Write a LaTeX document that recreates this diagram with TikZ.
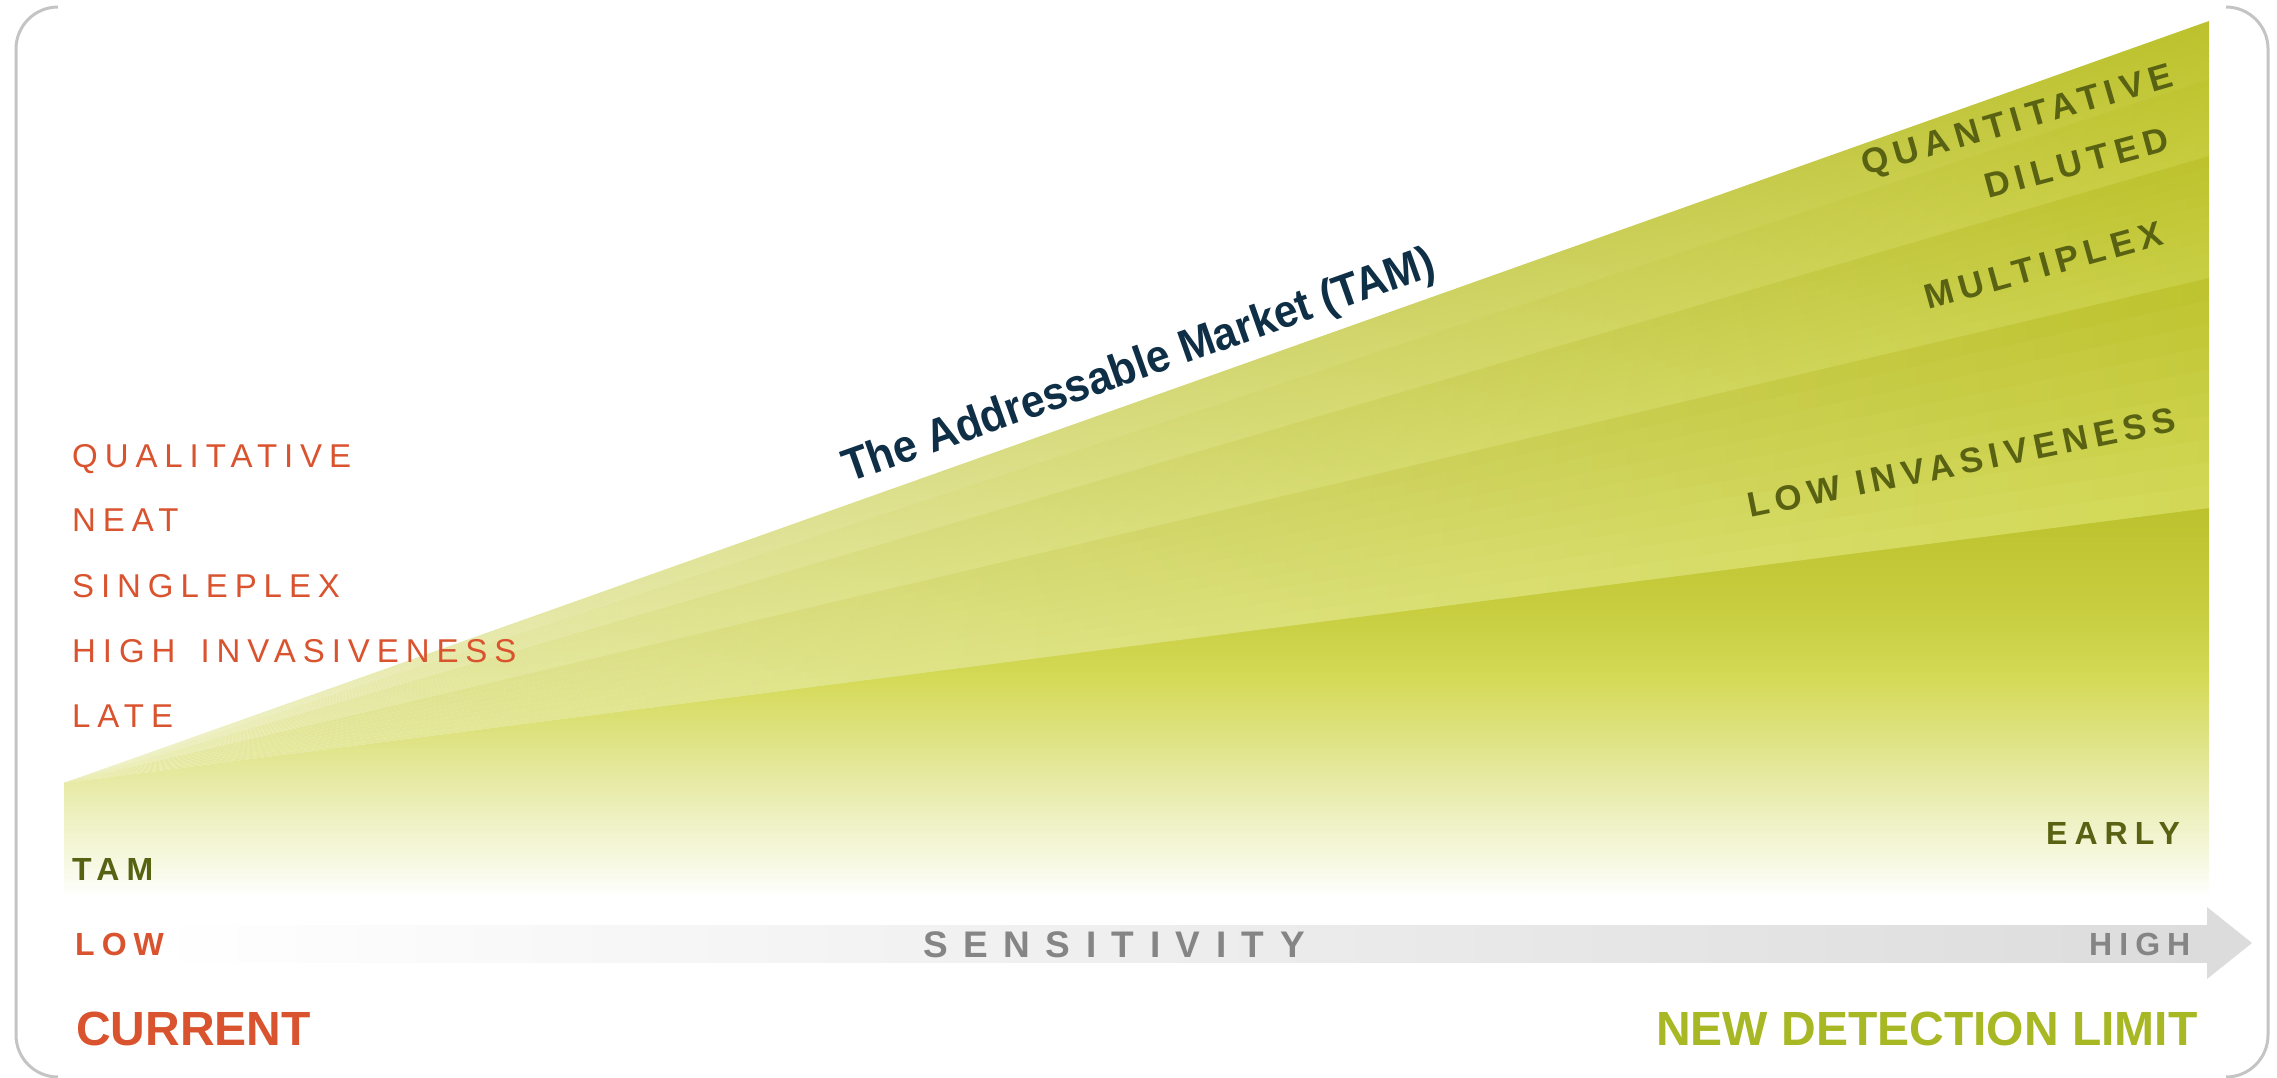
\documentclass[tikz,border=0pt]{standalone}
\usepackage{fontspec}
\setmainfont{Liberation Sans}
\definecolor{orng}{HTML}{D9532F}
\definecolor{olive}{HTML}{586212}
\definecolor{navy}{HTML}{0E2F46}
\definecolor{lime}{HTML}{A8B824}
\definecolor{gtxt}{HTML}{858585}
\definecolor{arr}{HTML}{DCDCDC}
\definecolor{frame}{HTML}{C4C4C4}
\definecolor{g1}{HTML}{BCC12D}
\definecolor{g2}{HTML}{C8CE40}
\definecolor{g3}{HTML}{D5DA58}
\definecolor{g4}{HTML}{E0E48A}
\definecolor{g5}{HTML}{EDF0BE}
\definecolor{g6}{HTML}{FBFCF0}
% band colours: left, mid-top, right-top, mid-bottom, right-bottom
\definecolor{aL}{HTML}{E7EAA6}\definecolor{aMt}{HTML}{D1D74E}\definecolor{aRt}{HTML}{BEC32F}\definecolor{aMb}{HTML}{DADF66}\definecolor{aRb}{HTML}{D2D855}
\definecolor{bL}{HTML}{EAEDB2}\definecolor{bMt}{HTML}{D3D854}\definecolor{bRt}{HTML}{BDC22D}\definecolor{bMb}{HTML}{D8DC60}\definecolor{bRb}{HTML}{C8CE42}
\definecolor{cL}{HTML}{EDEFBE}\definecolor{cMt}{HTML}{D5DA58}\definecolor{cRt}{HTML}{BFC430}\definecolor{cMb}{HTML}{D9DD62}\definecolor{cRb}{HTML}{C6CB3D}
\definecolor{dL}{HTML}{EFF1C6}\definecolor{dMt}{HTML}{D7DB5C}\definecolor{dRt}{HTML}{BCC12C}\definecolor{dMb}{HTML}{DADE64}\definecolor{dRb}{HTML}{C2C736}
\newcommand{\myband}[7]{%
  \foreach \k in {0,...,9}{%
    \pgfmathsetmacro\ya{#1+(#2-#1)*\k/10}%
    \pgfmathsetmacro\yb{#1+(#2-#1)*(\k+1)/10+(\k<9 ? 1 : 0)}%
    \pgfmathtruncatemacro\pc{100-100*\k/9}%
    \shade[left color=#3, middle color=#4!\pc!#6, right color=#5!\pc!#7]
      (apex) -- (2209,\ya) -- (2209,\yb) -- cycle;
  }%
}
\tikzset{
  listtxt/.style={anchor=base west, inner sep=0pt, text=orng,
    font=\fontsize{33}{33}\selectfont\addfontfeature{LetterSpace=21}},
  bandtxt/.style={anchor=base west, inner sep=0pt, text=olive,
    font=\bfseries\fontsize{35}{35}\selectfont\addfontfeature{LetterSpace=18}},
  smalltxt/.style={anchor=base west, inner sep=0pt,
    font=\bfseries\fontsize{32}{32}\selectfont\addfontfeature{LetterSpace=22}},
  bigtxt/.style={anchor=base west, inner sep=0pt,
    font=\bfseries\fontsize{48}{48}\selectfont},
  framestyle/.style={draw=frame, line width=3pt, rounded corners=42pt},
}
\begin{document}
\begin{tikzpicture}[x=1pt,y=-1pt]
\useasboundingbox (0,0) rectangle (2277,1078);
% frame brackets
\draw[framestyle] (58,7) -- (16,7) -- (16,1077) -- (58,1077);
\draw[framestyle] (2226,7) -- (2268,7) -- (2268,1077) -- (2226,1077);

\coordinate (apex) at (64,783);
% lowest region with vertical fade
\begin{scope}
\clip (apex) -- (2209,507) -- (2209,897) -- (64,897) -- cycle;
\shade[top color=g1, bottom color=g2] (64,505) rectangle (2209,614);
\shade[top color=g2, bottom color=g3] (64,613) rectangle (2209,681);
\shade[top color=g3, bottom color=g4] (64,680) rectangle (2209,748);
\shade[top color=g4, bottom color=g5] (64,747) rectangle (2209,814);
\shade[top color=g5, bottom color=g6] (64,813) rectangle (2209,881);
\shade[top color=g6, bottom color=white] (64,880) rectangle (2209,897);
\end{scope}
% bands
\myband{277}{508}{aL}{aMt}{aRt}{aMb}{aRb}
\myband{155}{278}{bL}{bMt}{bRt}{bMb}{bRb}
\myband{78}{156}{cL}{cMt}{cRt}{cMb}{cRb}
\myband{21}{79}{dL}{dMt}{dRt}{dMb}{dRb}

% arrow
\shade[left color=white, right color=arr] (150,925) rectangle (2208,962);
\fill[arr] (2207,907) -- (2252,943) -- (2207,979) -- cycle;

% texts
\node[listtxt] (q) at (72,467) {QUALITATIVE};
\node[listtxt] (n) at (72,531) {NEAT};
\node[listtxt] (s) at (72,597) {SINGLEPLEX};
\node[listtxt] (h) at (72,662) {HIGH\hspace{9pt} INVASIVENESS};
\node[listtxt] (l) at (72,727) {LATE};

\node[anchor=base west, inner sep=0pt, text=navy, rotate=19.5, font=\bfseries\fontsize{46}{46}\selectfont\addfontfeature{FakeStretch=0.93}] (title) at (849,483) {The Addressable Market (TAM)};

\node[bandtxt, rotate=16.2] (quant) at (1865,176) {QUANTITATIVE};
\node[bandtxt, rotate=15] (dil) at (1988,199) {DILUTED};
\node[bandtxt, rotate=15.5] (mul) at (1928,310) {MULTIPLEX};
\node[bandtxt, rotate=11.5] (lowinv) at (1750,518) {LOW INVASIVENESS};

\node[smalltxt, text=olive] (tam) at (72,880) {TAM};
\node[smalltxt, text=olive] (early) at (2046,844) {EARLY};
\node[smalltxt, text=orng] (low) at (75,955) {LOW};
\node[smalltxt, text=gtxt] (high) at (2089,955) {HIGH};
\node[anchor=base west, inner sep=0pt, text=gtxt, font=\bfseries\fontsize{37}{37}\selectfont\addfontfeature{LetterSpace=42}] (sens) at (923,957) {SENSITIVITY};

\node[bigtxt, text=orng] (cur) at (76,1045) {CURRENT};
\node[bigtxt, text=lime] (ndl) at (1656,1045) {NEW DETECTION LIMIT};
\end{tikzpicture}
\end{document}
